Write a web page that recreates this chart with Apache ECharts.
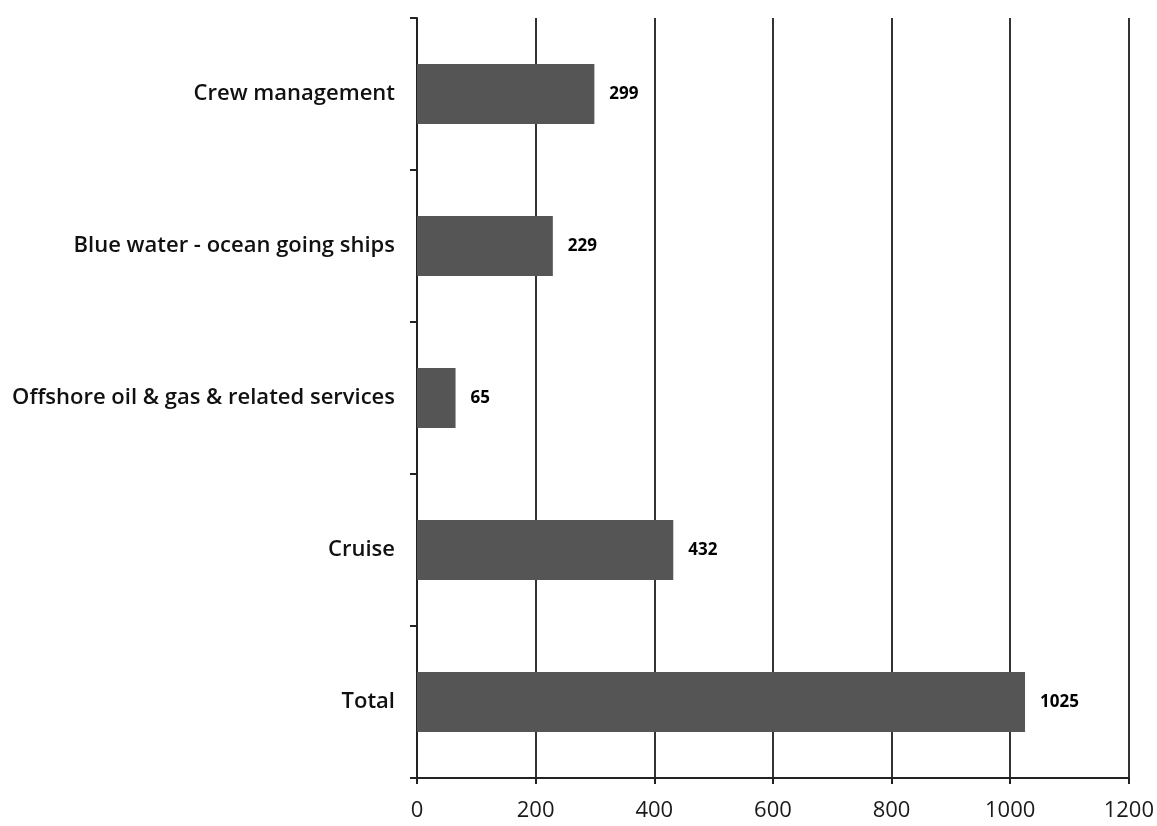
<!DOCTYPE html>
<html>
<head>
<meta charset="utf-8">
<script src="https://cdn.jsdelivr.net/npm/echarts@6/dist/echarts.min.js"></script>
<style>
  html, body { margin: 0; padding: 0; background: #ffffff; }
  #chart { width: 1157px; height: 826px; }
</style>
</head>
<body>
<div id="chart"></div>
<script>
// Categories listed bottom-to-top (category axis starts at the bottom)
const categories = [
  'Total',
  'Cruise',
  'Offshore oil & gas & related services',
  'Blue water - ocean going ships',
  'Crew management'
];
const values = [1025, 432, 65, 229, 299];
const xTicks = { min: 0, max: 1200, interval: 200 };

const chart = echarts.init(document.getElementById('chart'));
chart.setOption({
  animation: false,
  backgroundColor: '#ffffff',
  grid: { left: 417, right: 27, top: 18, bottom: 48, containLabel: false },
  xAxis: {
    type: 'value',
    min: xTicks.min,
    max: xTicks.max,
    interval: xTicks.interval,
    axisLine: { show: true, lineStyle: { color: '#222', width: 2 } },
    axisTick: { show: true, length: 6, inside: false, lineStyle: { color: '#222', width: 2 } },
    splitLine: { show: true, lineStyle: { color: '#333', width: 2 } },
    axisLabel: {
      color: '#1a1a1a', fontFamily: 'Open Sans', fontSize: 22, fontWeight: 500, margin: 22,
      formatter: (v) => String(v)
    }
  },
  yAxis: {
    type: 'category',
    data: categories,
    axisLine: { show: true, lineStyle: { color: '#222', width: 2 } },
    axisTick: { show: true, length: 7, inside: false, lineStyle: { color: '#222', width: 2 } },
    axisLabel: {
      color: '#111', fontFamily: 'Open Sans', fontSize: 22, fontWeight: 600, margin: 22
    }
  },
  series: [{
    type: 'bar',
    data: values,
    barWidth: 60,
    itemStyle: { color: '#555555' },
    label: {
      show: true,
      position: 'right',
      distance: 15,
      color: '#000',
      fontFamily: 'Open Sans',
      fontSize: 17,
      fontWeight: 'bold'
    }
  }]
});
</script>
</body>
</html>
